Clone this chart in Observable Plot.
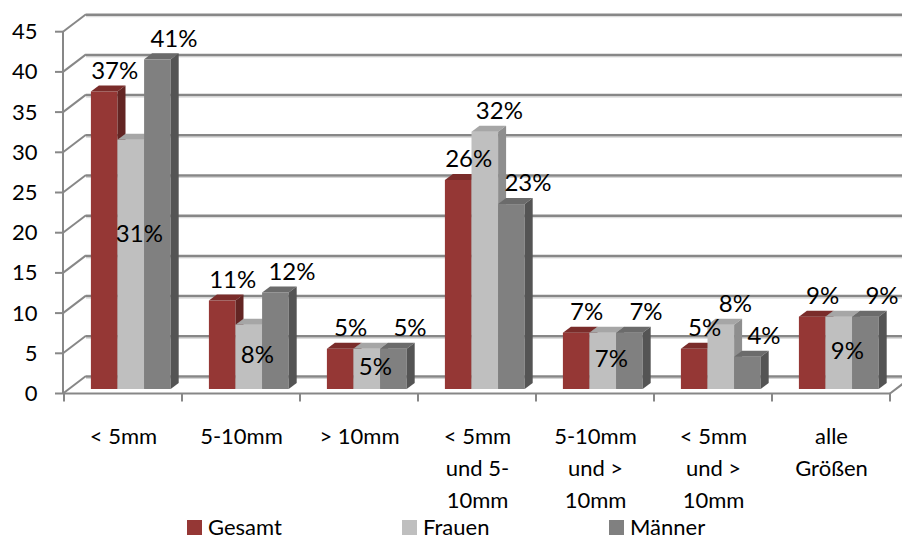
<!DOCTYPE html>
<html>
<head>
<meta charset="utf-8">
<script src="https://cdn.jsdelivr.net/npm/d3@7"></script>
<script src="https://cdn.jsdelivr.net/npm/@observablehq/plot@0.6"></script>
<style>
  html, body { margin: 0; padding: 0; background: #fff; }
  #chart { width: 902px; height: 540px; overflow: hidden; font-family: Lato, "Noto Sans", sans-serif; }
  #chart svg { display: block; }
  .legend { position: relative; height: 28px; width: 902px; }
  .legend .item { position: absolute; top: 2px; height: 26px; line-height: 26px; display: flex; align-items: center; gap: 6px; font-size: 22px; color: #000; }
  .legend .sw { width: 15px; height: 15px; display: inline-block; }
</style>
</head>
<body>
<div id="chart"></div>
<script>
// ---- data ----
const categories = ["< 5mm", "5-10mm", "> 10mm", "< 5mm\nund 5-\n10mm", "5-10mm\nund >\n10mm", "< 5mm\nund >\n10mm", "alle\nGrößen"];
const seriesNames = ["Gesamt", "Frauen", "Männer"];
const gesamt = [37, 11, 5, 26, 7, 5, 9];
const frauen = [31, 8, 5, 32, 7, 8, 9];
const maenner = [41, 12, 5, 23, 7, 4, 9];
const yTicks = [0, 5, 10, 15, 20, 25, 30, 35, 40, 45];

// ---- styles / layout ----
const seriesValues = [gesamt, frauen, maenner];
const faces = [
  {front: "#953735", top: "#7a2c2a", side: "#632523"},
  {front: "#bfbfbf", top: "#a6a6a6", side: "#8e8e8e"},
  {front: "#808080", top: "#6b6b6b", side: "#545454"}
];
const X0 = 63, X1 = 891;
const BAND = (X1 - X0) / categories.length;
const GROUP_OFF = 0.228;   // fraction of band before first bar
const BAR_W = 0.2254;      // fraction of band per bar
const BAR_DX = 8, BAR_DY = -6;      // bar depth
const WALL_DX = 23;                 // plot depth
const FRONT_DY = 4.5, BACK_DY = -13;
const gridColor = "#878787";

// bar center relative to band center (pixels)
const barCenterOffset = s => (GROUP_OFF + BAR_W * (s + 0.5) - 0.5) * BAND;

function structure(index, scales) {
  const x = scales.x, y = scales.y;
  const bw = x.bandwidth ? x.bandwidth() : BAND;
  const g = d3.create("svg:g").attr("fill", "none").attr("stroke", gridColor).attr("stroke-width", 2);
  const [r0, r1] = x.range();
  // left wall
  g.append("line").attr("x1", r0).attr("x2", r0).attr("y1", y(0) + FRONT_DY).attr("y2", y(45) + FRONT_DY);
  for (const t of yTicks) {
    g.append("line").attr("x1", r0).attr("y1", y(t) + FRONT_DY).attr("x2", r0 + WALL_DX).attr("y2", y(t) + BACK_DY);
    g.append("line").attr("x1", r0 - 8).attr("y1", y(t) + FRONT_DY).attr("x2", r0).attr("y2", y(t) + FRONT_DY);
  }
  // floor front edge and category ticks
  g.append("line").attr("x1", r0).attr("x2", r1).attr("y1", y(0) + FRONT_DY).attr("y2", y(0) + FRONT_DY);
  const bounds = categories.map(c => x(c)).concat([x(categories[categories.length - 1]) + bw]);
  for (const bx of bounds) {
    g.append("line").attr("x1", bx).attr("x2", bx).attr("y1", y(0) + FRONT_DY).attr("y2", y(0) + FRONT_DY + 8);
  }
  // floor right edge
  g.append("line").attr("x1", r1 - 1).attr("y1", y(0) + FRONT_DY).attr("x2", r1 - 1 + WALL_DX).attr("y2", y(0) + BACK_DY);
  return g.node();
}

function bars3d(index, scales) {
  const x = scales.x, y = scales.y;
  const bw = x.bandwidth ? x.bandwidth() : BAND;
  const g = d3.create("svg:g").attr("stroke", "none");
  categories.forEach((c, i) => {
    seriesValues.forEach((vals, s) => {
      const v = vals[i];
      const fx0 = x(c) + GROUP_OFF * bw + s * BAR_W * bw;
      const fx1 = fx0 + BAR_W * bw;
      const top = y(v), bot = y(0);
      const f = faces[s];
      g.append("rect").attr("x", fx0).attr("y", top).attr("width", fx1 - fx0).attr("height", bot - top).attr("fill", f.front);
      g.append("polygon").attr("fill", f.top)
        .attr("points", [[fx0, top], [fx0 + BAR_DX, top + BAR_DY], [fx1 + BAR_DX, top + BAR_DY], [fx1, top]].map(p => p.join(",")).join(" "));
      g.append("polygon").attr("fill", f.side)
        .attr("points", [[fx1, top], [fx1 + BAR_DX, top + BAR_DY], [fx1 + BAR_DX, bot + BAR_DY], [fx1, bot]].map(p => p.join(",")).join(" "));
    });
  });
  return g.node();
}

// Frauen label goes above its bar when it is taller than both neighbours
const frauenAbove = frauen.map((v, i) => v > gesamt[i] && v > maenner[i]);

const labelFont = 24;
const marks = [
  // back wall gridlines
  Plot.ruleY(yTicks, {y: d => d, dx: WALL_DX, dy: BACK_DY + 2, stroke: "#d6d6d6", strokeWidth: 1}),
  Plot.ruleY(yTicks, {y: d => d, dx: WALL_DX, dy: BACK_DY, stroke: gridColor, strokeWidth: 2.5}),
  structure,
  bars3d,
  // value labels
  Plot.text(categories, {x: d => d, y: (d, i) => gesamt[i], text: (d, i) => gesamt[i] + "%",
    dx: barCenterOffset(0) + 10, dy: -21, fontSize: labelFont, fill: "#000"}),
  Plot.text(categories, {x: d => d, y: (d, i) => maenner[i], text: (d, i) => maenner[i] + "%",
    dx: barCenterOffset(2) + 16, dy: -21, fontSize: labelFont, fill: "#000"}),
  Plot.text(categories, {filter: (d, i) => frauenAbove[i], x: d => d, y: (d, i) => frauen[i], text: (d, i) => frauen[i] + "%",
    dx: barCenterOffset(1) + 14, dy: -21, fontSize: labelFont, fill: "#000"}),
  Plot.text(categories, {filter: (d, i) => !frauenAbove[i], x: d => d,
    y: (d, i) => Math.max(frauen[i] / 2, frauen[i] - 12), text: (d, i) => frauen[i] + "%",
    dx: barCenterOffset(1) + 8, dy: -2, fontSize: labelFont, fill: "#000"}),
  // y axis labels
  Plot.text(yTicks, {y: d => d, text: d => String(d), frameAnchor: "left", textAnchor: "end",
    dx: 37 - X0, dy: FRONT_DY, fontSize: 22, fill: "#000"}),
  // category labels
  Plot.text(categories, {x: d => d, y: () => 0, text: d => d, lineAnchor: "top", lineHeight: 1.45,
    dy: 32, fontSize: 22, fill: "#000"})
];

const plot = Plot.plot({
  width: 902,
  height: 512,
  marginLeft: X0,
  marginRight: 0,
  marginTop: 0,
  marginBottom: 0,
  x: {type: "band", domain: categories, range: [X0, X1], padding: 0, axis: null},
  y: {domain: [0, 45], range: [389, 389 - 45 * 8.04], axis: null},
  style: {fontFamily: "Lato, 'Noto Sans', sans-serif", fontSize: "22px", color: "#000", background: "#fff", overflow: "visible"},
  marks
});

const chart = document.getElementById("chart");
chart.appendChild(plot);

// legend
const legend = document.createElement("div");
legend.className = "legend";
const legendLeft = [187, 402, 609];
seriesNames.forEach((name, s) => {
  const item = document.createElement("div");
  item.className = "item";
  item.style.left = legendLeft[s] + "px";
  const sw = document.createElement("span");
  sw.className = "sw";
  sw.style.background = faces[s].front;
  const tx = document.createElement("span");
  tx.textContent = name;
  item.appendChild(sw);
  item.appendChild(tx);
  legend.appendChild(item);
});
chart.appendChild(legend);
</script>
</body>
</html>
